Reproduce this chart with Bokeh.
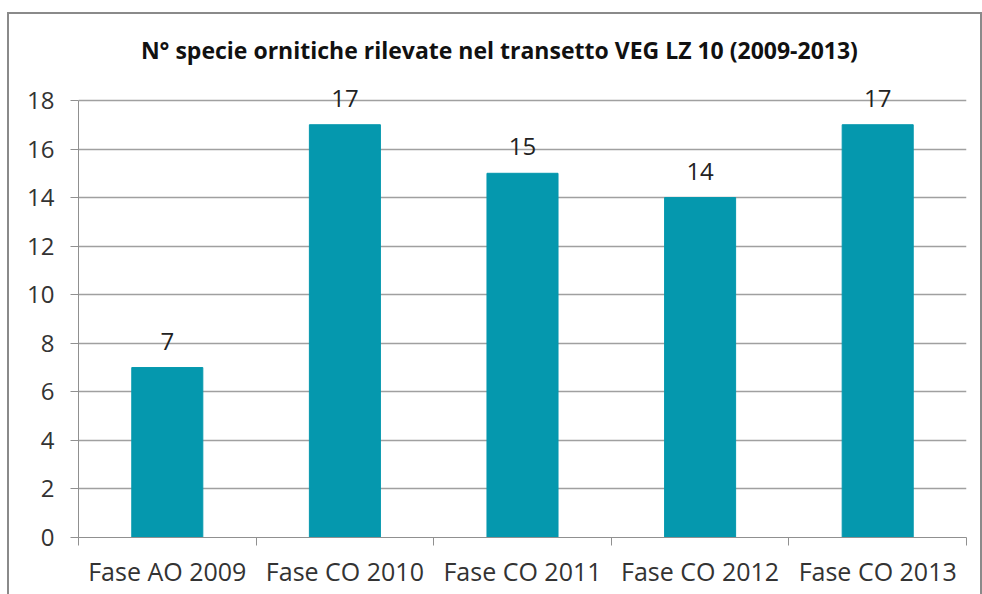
import numpy as np
from bokeh.plotting import figure
from bokeh.models import ColumnDataSource, FixedTicker, Range1d, LabelSet, Label
from bokeh.core.properties import value
from bokeh.embed import file_html
from bokeh.resources import INLINE

categories = ["Fase AO 2009", "Fase CO 2010", "Fase CO 2011", "Fase CO 2012", "Fase CO 2013"]
values = [7, 17, 15, 14, 17]
y_ticks = [0, 2, 4, 6, 8, 10, 12, 14, 16, 18]
title_text = "N° specie ornitiche rilevate nel transetto VEG LZ 10 (2009-2013)"

xpos = np.arange(len(categories)) + 0.5
src = ColumnDataSource(dict(x=xpos, top=values, lab=[str(v) for v in values]))

FONT = "Open Sans"
# frame extends above the axis top (18) so the title and value labels can sit inside it
Y_TOP = 21.54
p = figure(width=975, height=582, output_backend="svg", toolbar_location=None,
           x_range=Range1d(0, len(categories)), y_range=Range1d(0, Y_TOP),
           min_border_left=69, min_border_right=18, min_border_top=0, min_border_bottom=59)
p.title.visible = False
p.margin = (12, 0, 0, 7)
p.styles = {"border-top": "2px solid #8a8a8a", "border-left": "2px solid #8a8a8a",
            "border-right": "2px solid #8a8a8a", "box-sizing": "border-box"}

title = Label(x=2.37, y=20.06, text=title_text, text_align="center", text_baseline="middle",
              text_font=FONT, text_font_size="23px", text_font_style="bold", text_color="#111111")
p.add_layout(title)

p.vbar(x="x", top="top", width=0.4, bottom=0, source=src, color="#0598AE")

labels = LabelSet(x="x", y="top", text="lab", source=src, text_align="center",
                  text_baseline="bottom", y_offset=18, text_font=value(FONT),
                  text_font_size=value("24px"), text_color="#222222")
p.add_layout(labels)

p.xaxis.ticker = FixedTicker(ticks=list(xpos), minor_ticks=list(range(len(categories) + 1)))
p.xaxis.major_label_overrides = {float(x): c for x, c in zip(xpos, categories)}
p.xaxis.major_tick_line_color = None
p.xaxis.major_tick_out = 0
p.xaxis.major_tick_in = 0
p.xaxis.minor_tick_in = 0
p.xaxis.minor_tick_out = 8
p.xaxis.minor_tick_line_color = "#909090"
p.xaxis.axis_line_color = "#909090"
p.xaxis.major_label_text_font = FONT
p.xaxis.major_label_text_font_size = "25px"
p.xaxis.major_label_text_color = "#333333"
p.xaxis.major_label_standoff = 8

p.yaxis.ticker = FixedTicker(ticks=y_ticks)
p.yaxis.bounds = (0, 18)
p.yaxis.minor_tick_line_color = None
p.yaxis.major_tick_in = 0
p.yaxis.major_tick_out = 8
p.yaxis.major_tick_line_color = "#909090"
p.yaxis.axis_line_color = "#909090"
p.yaxis.major_label_text_font = FONT
p.yaxis.major_label_text_font_size = "24px"
p.yaxis.major_label_text_color = "#333333"
p.yaxis.major_label_standoff = 16

p.xgrid.grid_line_color = None
p.ygrid.ticker = FixedTicker(ticks=y_ticks)
p.ygrid.grid_line_color = "#a0a0a0"
p.ygrid.grid_line_width = 1.3
p.outline_line_color = None

open("out.html", "w").write(file_html(p, INLINE))
